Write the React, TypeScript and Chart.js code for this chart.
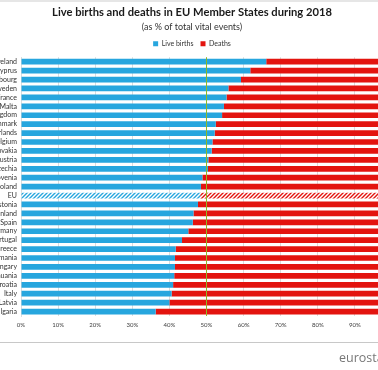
import React, { useEffect, useRef } from "react";
import { Chart, registerables } from "chart.js";

Chart.register(...registerables);

const countries = [
  "Ireland", "Cyprus", "Luxembourg", "Sweden", "France", "Malta", "United Kingdom",
  "Denmark", "Netherlands", "Belgium", "Slovakia", "Austria", "Czechia", "Slovenia",
  "Poland", "EU", "Estonia", "Finland", "Spain", "Germany", "Portugal", "Greece",
  "Romania", "Hungary", "Lithuania", "Croatia", "Italy", "Latvia", "Bulgaria",
];

const liveBirths = [
  66.1, 61.8, 59.3, 55.9, 55.4, 54.7, 54.2,
  52.5, 52.2, 51.6, 51.4, 50.5, 50.4, 48.9,
  48.5, 48.3, 47.7, 46.5, 46.3, 45.1, 43.4, 41.7,
  41.5, 41.5, 41.3, 41.0, 40.6, 40.0, 36.3,
];

const deaths = [
  33.9, 38.2, 40.7, 44.1, 44.6, 45.3, 45.8,
  47.5, 47.8, 48.4, 48.6, 49.5, 49.6, 51.1,
  51.5, 51.7, 52.3, 53.5, 53.7, 54.9, 56.6, 58.3,
  58.5, 58.5, 58.7, 59.0, 59.4, 60.0, 63.7,
];

const xTicks = [0, 10, 20, 30, 40, 50, 60, 70, 80, 90, 100];

const BLUE = "#27a6de";
const RED = "#e3140f";
const FONT = "Lato, 'Open Sans', sans-serif";

function hatch(color: string): CanvasPattern | string {
  const c = document.createElement("canvas");
  c.width = 4;
  c.height = 4;
  const g = c.getContext("2d");
  if (!g) return color;
  g.fillStyle = "#ffffff";
  g.fillRect(0, 0, 4, 4);
  g.strokeStyle = color;
  g.lineWidth = 1.4;
  g.beginPath();
  g.moveTo(0, 4);
  g.lineTo(4, 0);
  g.moveTo(-1, 1);
  g.lineTo(1, -1);
  g.moveTo(3, 5);
  g.lineTo(5, 3);
  g.stroke();
  const p = g.createPattern(c, "repeat");
  return p || color;
}

const midLine = {
  id: "midLine",
  afterDatasetsDraw(chart: any) {
    const { ctx, chartArea, scales } = chart;
    const x = scales.x.getPixelForValue(50);
    ctx.save();
    ctx.strokeStyle = "#8fb826";
    ctx.lineWidth = 1;
    ctx.beginPath();
    ctx.moveTo(Math.floor(x) + 0.5, chartArea.top);
    ctx.lineTo(Math.floor(x) + 0.5, chartArea.bottom);
    ctx.stroke();
    ctx.restore();
  },
};

export default function App() {
  const ref = useRef<HTMLCanvasElement>(null);

  useEffect(() => {
    if (!ref.current) return;
    const euIdx = countries.indexOf("EU");
    const blueColors = countries.map((_, i) => (i === euIdx ? hatch(BLUE) : BLUE));
    const redColors = countries.map((_, i) => (i === euIdx ? hatch(RED) : RED));

    const chart = new Chart(ref.current, {
      type: "bar",
      data: {
        labels: countries,
        datasets: [
          {
            label: "Live births",
            data: liveBirths,
            backgroundColor: blueColors as any,
            borderWidth: 0,
            barPercentage: 0.64,
            categoryPercentage: 1,
          },
          {
            label: "Deaths",
            data: deaths,
            backgroundColor: redColors as any,
            borderWidth: 0,
            barPercentage: 0.64,
            categoryPercentage: 1,
          },
        ],
      },
      options: {
        indexAxis: "y",
        responsive: false,
        animation: false,
        layout: { padding: { left: 32, right: 32, top: 4, bottom: 40 } },
        scales: {
          x: {
            stacked: true,
            min: 0,
            max: 100,
            afterBuildTicks: (scale: any) => {
              scale.ticks = xTicks.map((v) => ({ value: v }));
            },
            afterFit: (scale: any) => {
              scale.height = 14;
            },
            grid: { color: "#dcdcdc", drawTicks: false, lineWidth: 1 },
            border: { display: false },
            ticks: {
              padding: 5,
              color: "#404040",
              font: { family: FONT, size: 6 },
              callback: (v: any) => v + "%",
            },
          },
          y: {
            stacked: true,
            afterFit: (scale: any) => {
              scale.width = 29;
            },
            grid: { display: false, drawTicks: false },
            border: { display: true, color: "#dcdcdc" },
            ticks: {
              padding: 4,
              autoSkip: false,
              color: "#333333",
              font: { family: FONT, size: 7 },
            },
          },
        },
        plugins: {
          title: {
            display: true,
            text: "Live births and deaths in EU Member States during 2018",
            color: "#1a1a1a",
            font: { family: FONT, size: 11.2, weight: "bold" },
            padding: { top: 2, bottom: 2 },
          },
          subtitle: {
            display: true,
            text: "(as % of total vital events)",
            color: "#333333",
            font: { family: FONT, size: 9 },
            padding: { top: 0, bottom: 1 },
          },
          legend: {
            display: true,
            labels: {
              boxWidth: 5,
              boxHeight: 5,
              padding: 7,
              color: "#333333",
              font: { family: FONT, size: 7 },
            },
          },
          tooltip: { enabled: false },
        },
      },
      plugins: [midLine],
    });
    return () => chart.destroy();
  }, []);

  return (
    <div
      style={{
        position: "fixed",
        left: 0,
        top: 0,
        width: 378,
        height: 370,
        overflow: "hidden",
        background: "#ffffff",
      }}
    >
      <div style={{ position: "absolute", left: 0, top: 0, width: 378, height: 2, background: "#e6e6e6" }} />
      <canvas
        ref={ref}
        width={464}
        height={370}
        style={{ position: "absolute", left: -40, top: 0, width: 464, height: 370 }}
      />
      <div style={{ position: "absolute", left: 0, top: 342, width: 378, height: 1, background: "#c8c8c8" }} />
      <div
        style={{
          position: "absolute",
          left: 339,
          top: 350,
          fontFamily: "'Open Sans', sans-serif",
          fontSize: 12.5,
          color: "#777777",
          whiteSpace: "nowrap",
          lineHeight: "16px",
        }}
      >
        eurostat
      </div>
    </div>
  );
}
